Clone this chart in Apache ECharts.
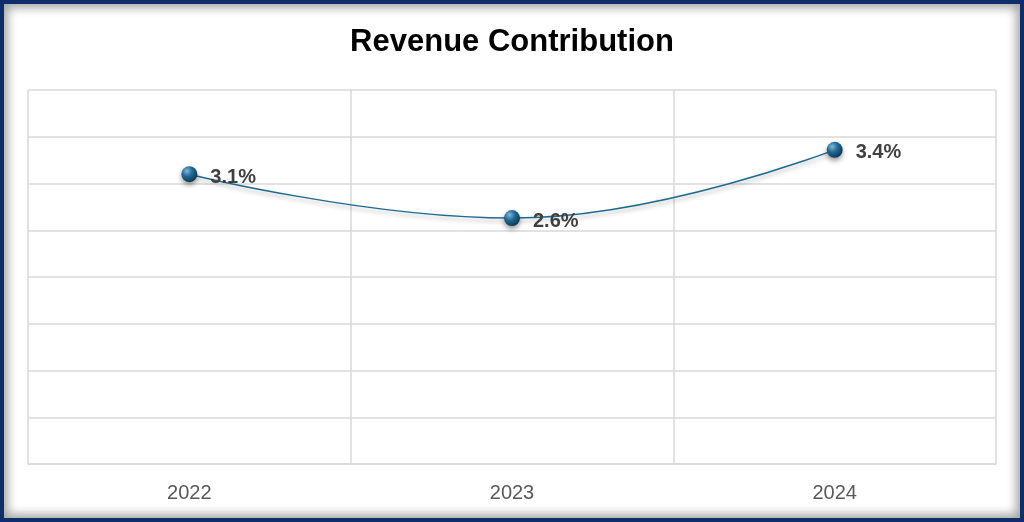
<!DOCTYPE html>
<html>
<head>
<meta charset="utf-8">
<script src="https://cdn.jsdelivr.net/npm/echarts@6/dist/echarts.min.js"></script>
<style>
  html, body { margin: 0; padding: 0; background: #fff; }
  #frame {
    position: absolute; left: 0; top: 0;
    width: 1024px; height: 522px; box-sizing: border-box;
    border: 4px solid #0f2d6b;
    box-shadow: inset 0 0 10px 4px rgba(0,0,0,0.35);
    background: #fff;
  }
  #chart { position: absolute; left: 0; top: 0; width: 1024px; height: 522px; }
</style>
</head>
<body>
<div id="frame"></div>
<div id="chart"></div>
<script>
// years on the x axis
const years = ["2022", "2023", "2024"];
// revenue contribution, percent
const contribution = [3.1, 2.63, 3.36];

const chart = echarts.init(document.getElementById("chart"));

chart.setOption({
  title: {
    text: "Revenue Contribution",
    left: "center",
    top: 22,
    textStyle: {
      fontFamily: "Liberation Sans",
      fontSize: 31,
      fontWeight: "bold",
      color: "#000",
    },
  },
  grid: { left: 28, right: 28, top: 90, bottom: 58 },
  xAxis: {
    type: "category",
    data: years,
    boundaryGap: true,
    axisLine: { show: true, lineStyle: { color: "#d9d9d9", width: 1.5 } },
    axisTick: { show: false },
    axisLabel: {
      color: "#595959",
      fontFamily: "Liberation Sans",
      fontSize: 20,
      margin: 19,
    },
    splitLine: { show: true, lineStyle: { color: "#d9d9d9", width: 1.5 } },
  },
  yAxis: {
    type: "value",
    min: 0,
    max: 4,
    interval: 0.5,
    axisLine: { show: false },
    axisTick: { show: false },
    axisLabel: { show: false },
    splitLine: { lineStyle: { color: "#d9d9d9", width: 1.5 } },
  },
  series: [
    {
      type: "line",
      data: contribution,
      smooth: 0.45,
      symbol: "circle",
      symbolSize: 16,
      lineStyle: {
        color: "#1f6a8f",
        width: 1.5,
        shadowColor: "rgba(0,0,0,0.3)",
        shadowBlur: 4,
        shadowOffsetY: 3,
      },
      itemStyle: {
        color: new echarts.graphic.RadialGradient(0.35, 0.3, 0.75, [
          { offset: 0, color: "#7fb8d8" },
          { offset: 0.45, color: "#1f6a96" },
          { offset: 1, color: "#0b3550" },
        ]),
        shadowColor: "rgba(0,0,0,0.4)",
        shadowBlur: 5,
        shadowOffsetY: 3,
      },
      label: {
        show: true,
        position: "right",
        distance: 13,
        offset: [0, 3],
        color: "#404040",
        fontFamily: "Liberation Sans",
        fontSize: 20,
        fontWeight: "bold",
        formatter: (p) => p.value.toFixed(1) + "%",
      },
      z: 3,
    },
  ],
});
</script>
</body>
</html>
